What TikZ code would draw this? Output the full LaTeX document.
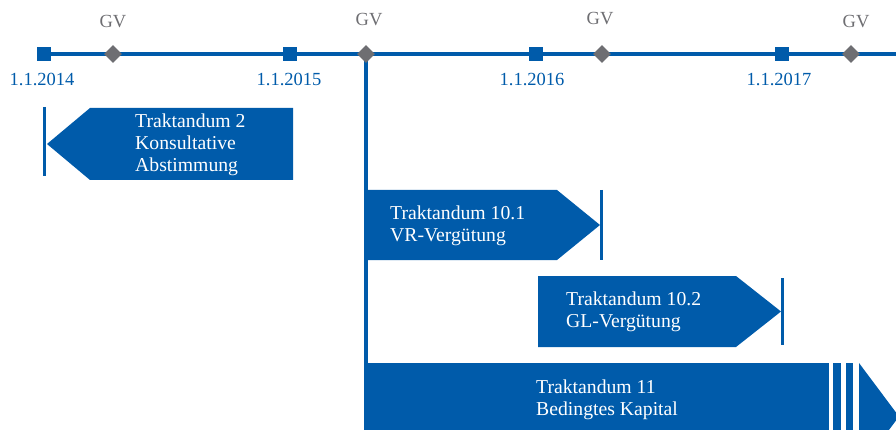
\documentclass[tikz,border=0pt]{standalone}
\usepackage{fontspec}
\setmainfont{Liberation Serif}
\usetikzlibrary{shapes.geometric}
\definecolor{tblue}{HTML}{005BAA}
\definecolor{tgray}{HTML}{6E6E72}
\tikzset{
  sq/.style={fill=tblue, minimum size=13.5pt, inner sep=0pt, draw=none},
  dia/.style={diamond, fill=tgray, minimum size=18pt, inner sep=0pt, draw=none},
  datelbl/.style={text=tblue, font=\fontsize{18.5}{20}\selectfont},
  gvlbl/.style={text=tgray, font=\fontsize{18.5}{20}\selectfont},
  boxtxt/.style={text=white, anchor=west, align=left, inner sep=0pt, font=\fontsize{19.7}{22}\selectfont},
  tline/.style={draw=tblue, line width=4.5pt},
  bar/.style={draw=tblue, line width=3pt},
  boxfill/.style={fill=tblue, draw=none}
}
\begin{document}
\begin{tikzpicture}[x=1pt,y=-1pt]
\useasboundingbox (0,0) rectangle (896,430);
\clip (0,0) rectangle (896,430);
\coordinate (tend) at (900,54);
\coordinate (vbot) at (366,440);
\node[sq] (d14) at (44,54) {};
\node[sq] (d15) at (290,54) {};
\node[sq] (d16) at (536,54) {};
\node[sq] (d17) at (782,54) {};
\draw[tline] (d14.center) -- (tend);
\draw[tline] (366,54) -- (vbot);
\node[sq] at (44,54) {};
\node[sq] at (290,54) {};
\node[sq] at (536,54) {};
\node[sq] at (782,54) {};
\node[dia] (g1) at (113,54) {};
\node[dia] (g2) at (366,54) {};
\node[dia] (g3) at (602,54) {};
\node[dia] (g4) at (851,54) {};
\node[gvlbl] (gl1) at (113,22) {GV};
\node[gvlbl] (gl2) at (369,20) {GV};
\node[gvlbl] (gl3) at (600,19) {GV};
\node[gvlbl] (gl4) at (856,22) {GV};
\node[datelbl] (l14) at (42,79) {1.1.2014};
\node[datelbl] (l15) at (289,79) {1.1.2015};
\node[datelbl] (l16) at (532,79) {1.1.2016};
\node[datelbl] (l17) at (779,79) {1.1.2017};
% Box 1
\path[boxfill] (90,108) -- (293,108) -- (293,180) -- (90,180) -- (47,144) -- cycle;
\coordinate (b1t) at (44.5,107);
\coordinate (b1b) at (44.5,176);
\draw[bar] (b1t) -- (b1b);
\node[boxtxt] (t1) at (135,145) {Traktandum 2\\Konsultative\\Abstimmung};
% Box 2
\path[boxfill] (364,190) -- (557,190) -- (600,225) -- (557,260) -- (364,260) -- cycle;
\coordinate (b2t) at (601,190);
\coordinate (b2b) at (601,260);
\draw[bar] (b2t) -- (b2b);
\node[boxtxt] (t2) at (390,226) {Traktandum 10.1\\VR-Vergütung};
% Box 3
\path[boxfill] (538,276) -- (736,276) -- (781,311.5) -- (736,347) -- (538,347) -- cycle;
\coordinate (b3t) at (782.5,278);
\coordinate (b3b) at (782.5,345);
\draw[bar] (b3t) -- (b3b);
\node[boxtxt] (t3) at (566,312) {Traktandum 10.2\\GL-Vergütung};
% Box 4
\path[boxfill] (364,363) rectangle (829,440);
\path[boxfill] (833,363) rectangle (841,440);
\path[boxfill] (846,363) rectangle (853,440);
\path[boxfill] (859,363) -- (899,416.5) -- (859,470) -- cycle;
\node[boxtxt] (t4) at (536,400) {Traktandum 11\\Bedingtes Kapital};
\end{tikzpicture}
\end{document}
